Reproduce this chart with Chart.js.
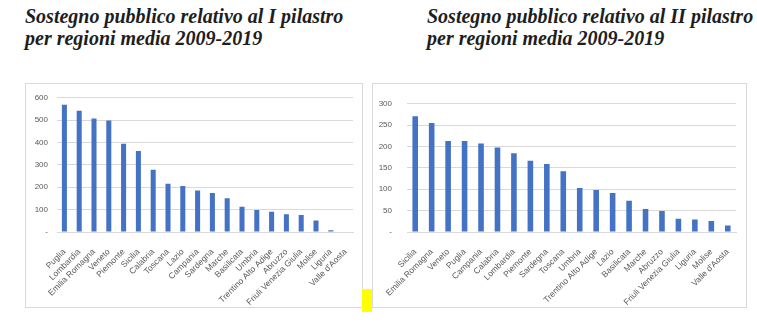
<!DOCTYPE html>
<html>
<head>
<meta charset="utf-8">
<script src="https://cdn.jsdelivr.net/npm/chart.js@4/dist/chart.umd.min.js"></script>
<style>
  html, body { margin: 0; padding: 0; background: #fff; }
  body { width: 757px; height: 327px; position: relative; overflow: hidden; }
  .titolo {
    position: absolute; margin: 0;
    font-family: "Liberation Serif", "Times New Roman", serif;
    font-weight: bold; font-style: italic; font-size: 20px; line-height: 22px;
    color: #1e1e1e;
  }
  .box { position: absolute; border: 1px solid #d9d9d9; background: #fff; }
  .box canvas { position: absolute; left: 0; top: 0; }
  #evidenza { position: absolute; left: 362px; top: 289px; width: 10px; height: 23px; background: #ffff00; }
</style>
</head>
<body>
<div class="titolo" style="left:25px; top:5px;">Sostegno pubblico relativo al I pilastro<br>per regioni media 2009-2019</div>
<div class="titolo" style="left:427px; top:5px;">Sostegno pubblico relativo al II pilastro<br>per regioni media 2009-2019</div>

<div class="box" style="left:25px; top:83px; width:336px; height:223px;"><canvas id="graficoI"></canvas></div>
<div class="box" style="left:372px; top:83px; width:373px; height:223px;"><canvas id="graficoII"></canvas></div>
<div id="evidenza"></div>

<script>
// I pilastro - media 2009-2019
const regioniI = ['Puglia', 'Lombardia', 'Emilia Romagna', 'Veneto', 'Piemonte', 'Sicilia', 'Calabria',
  'Toscana', 'Lazio', 'Campania', 'Sardegna', 'Marche', 'Basilicata', 'Umbria', 'Trentino Alto Adige',
  'Abruzzo', 'Friuli Venezia Giulia', 'Molise', 'Liguria', "Valle d'Aosta"];
const valoriI = [569, 542, 507, 499, 395, 362, 278, 216, 206, 186, 174, 151, 113, 98, 91, 79, 76, 51, 8, 0];
const tickI = { max: 600, passo: 100 };

// II pilastro - media 2009-2019
const regioniII = ['Sicilia', 'Emilia Romagna', 'Veneto', 'Puglia', 'Campania', 'Calabria', 'Lombardia',
  'Piemonte', 'Sardegna', 'Toscana', 'Umbria', 'Trentino Alto Adige', 'Lazio', 'Basilicata', 'Marche',
  'Abruzzo', 'Friuli Venezia Giulia', 'Liguria', 'Molise', "Valle d'Aosta"];
const valoriII = [271, 255, 213, 213, 207, 198, 184, 167, 159, 142, 103, 98, 91, 73, 54, 49, 31, 29, 26, 15];
const tickII = { max: 300, passo: 50 };

const BLU = '#4472c4';
const GRIGIO = '#d9d9d9';
const TESTO = '#595959';

function creaGrafico(id, etichette, valori, tick, largh, alt, yLarg, yPad, padDx) {
  const cv = document.getElementById(id);
  cv.width = largh; cv.height = alt;
  cv.style.width = largh + 'px'; cv.style.height = alt + 'px';
  return new Chart(cv.getContext('2d'), {
    type: 'bar',
    data: {
      labels: etichette,
      datasets: [{ data: valori, backgroundColor: BLU, categoryPercentage: 1, barPercentage: 0.34 }]
    },
    options: {
      responsive: false,
      animation: false,
      layout: { padding: { top: 11, right: padDx, left: 0, bottom: 0 } },
      plugins: { legend: { display: false }, tooltip: { enabled: false } },
      scales: {
        x: {
          grid: { display: false },
          border: { display: true, color: GRIGIO },
          afterFit: s => { s.height = 75; },
          ticks: {
            autoSkip: false, minRotation: 45, maxRotation: 45, padding: 7,
            color: TESTO, font: { family: 'Liberation Sans', size: 8.5 }
          }
        },
        y: {
          min: 0, max: tick.max,
          afterFit: s => { s.width = yLarg; },
          grid: { color: GRIGIO, drawTicks: false },
          border: { display: false },
          ticks: {
            stepSize: tick.passo, padding: yPad,
            color: TESTO, font: { family: 'Liberation Sans', size: 8 },
            callback: v => v === 0 ? '-' : v
          }
        }
      }
    }
  });
}

creaGrafico('graficoI', regioniI, valoriI, tickI, 336, 223, 31, 9, 9);
creaGrafico('graficoII', regioniII, valoriII, tickII, 373, 223, 34, 15, 10);
</script>
</body>
</html>
